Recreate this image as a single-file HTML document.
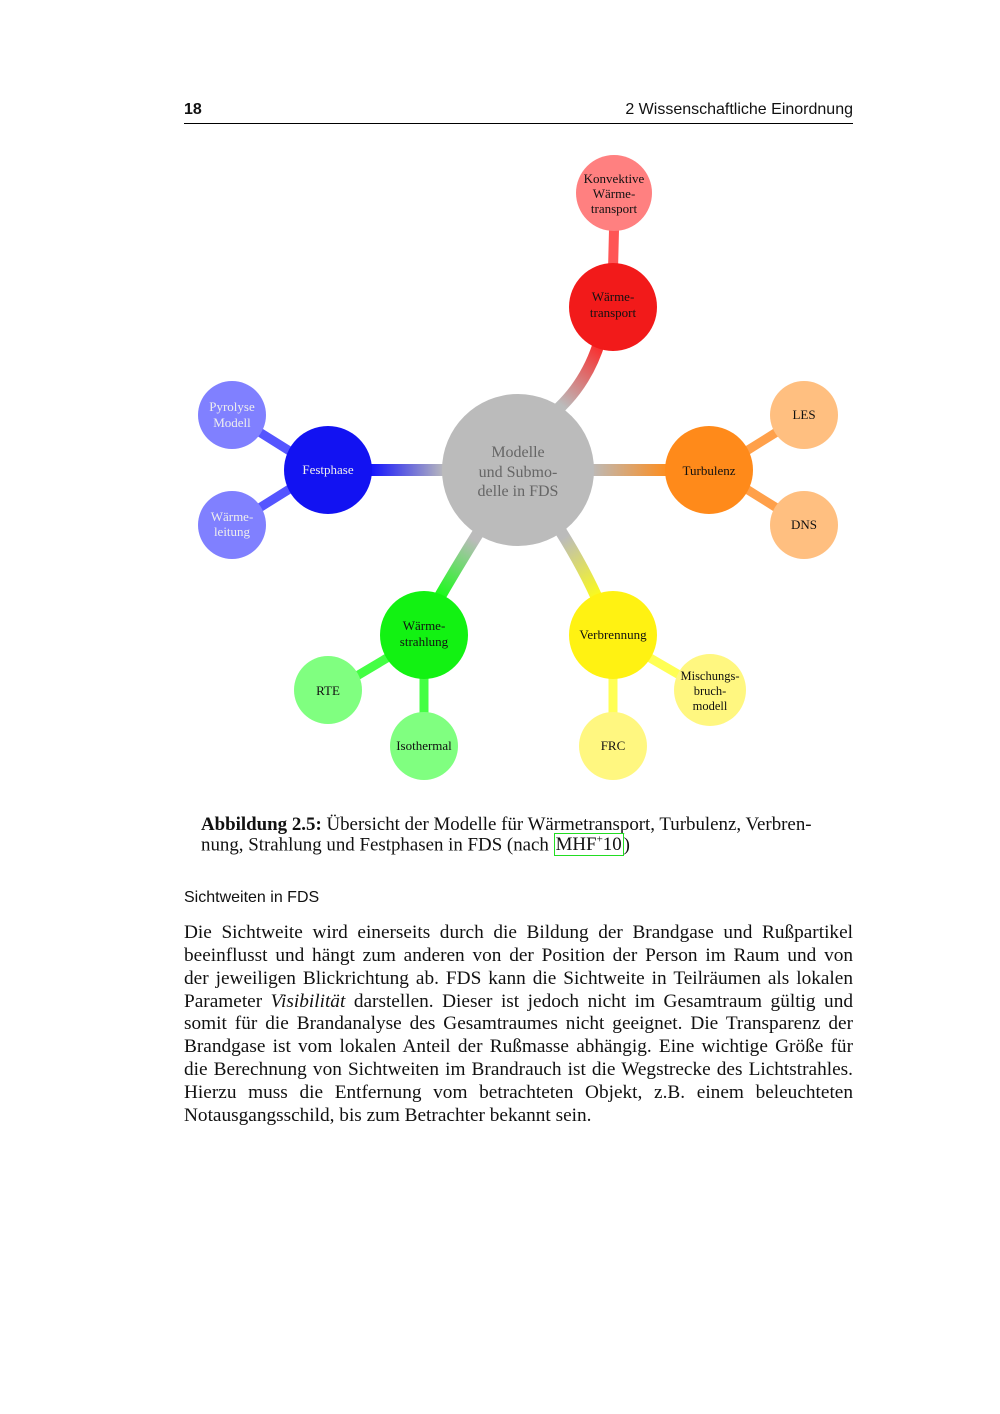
<!DOCTYPE html>
<html><head><meta charset="utf-8"><style>
body{margin:0;background:#fff;}
.page{position:relative;width:1000px;height:1414px;overflow:hidden;font-family:"Liberation Serif",serif;color:#111;}
.hdr{position:absolute;top:101px;left:184px;width:669px;font-family:"Liberation Sans",sans-serif;font-size:16px;}
.rule{position:absolute;top:123px;left:184px;width:669px;height:1px;background:#000;}
.ln{position:absolute;left:184px;width:669px;white-space:nowrap;text-align:justify;text-align-last:justify;font-size:19.3px;}
.cap{position:absolute;left:201px;font-size:18.9px;white-space:nowrap;}
</style></head><body><div class="page">
<div class="hdr"><b>18</b><span style="float:right">2 Wissenschaftliche Einordnung</span></div>
<div class="rule"></div>
<svg width="1000" height="800" style="position:absolute;left:0;top:0" font-family="Liberation Serif, serif" text-anchor="middle">
<defs>
<linearGradient id="gr" gradientUnits="userSpaceOnUse" x1="555" y1="400" x2="600" y2="340"><stop offset="0" stop-color="#bbb"/><stop offset="1" stop-color="#f22"/></linearGradient>
<linearGradient id="go" gradientUnits="userSpaceOnUse" x1="590" y1="470" x2="670" y2="470"><stop offset="0" stop-color="#bbb"/><stop offset="1" stop-color="#ff8c1a"/></linearGradient>
<linearGradient id="gb" gradientUnits="userSpaceOnUse" x1="445" y1="470" x2="370" y2="470"><stop offset="0" stop-color="#bbb"/><stop offset="1" stop-color="#11f"/></linearGradient>
<linearGradient id="gg" gradientUnits="userSpaceOnUse" x1="475" y1="540" x2="440" y2="600"><stop offset="0" stop-color="#bbb"/><stop offset="1" stop-color="#1f1"/></linearGradient>
<linearGradient id="gy" gradientUnits="userSpaceOnUse" x1="560" y1="540" x2="600" y2="600"><stop offset="0" stop-color="#bbb"/><stop offset="1" stop-color="#ff1"/></linearGradient>
</defs>
<g stroke-linecap="round" fill="none">
<path d="M545 420 Q585 390 600 340" stroke="url(#gr)" stroke-width="12"/>
<path d="M585 470 L680 470" stroke="url(#go)" stroke-width="12"/>
<path d="M450 470 L360 470" stroke="url(#gb)" stroke-width="12"/>
<path d="M480 530 Q455 570 435 605" stroke="url(#gg)" stroke-width="12"/>
<path d="M560 530 Q585 570 600 605" stroke="url(#gy)" stroke-width="12"/>
<path d="M614 230 L613 270" stroke="#f55" stroke-width="10"/>
<path d="M740 455 L780 430" stroke="#ffa04a" stroke-width="9"/>
<path d="M740 485 L780 510" stroke="#ffa04a" stroke-width="9"/>
<path d="M296 455 L256 430" stroke="#55f" stroke-width="9"/>
<path d="M296 485 L256 510" stroke="#55f" stroke-width="9"/>
<path d="M392 655 L350 680" stroke="#4f4" stroke-width="9"/>
<path d="M424 670 L424 715" stroke="#4f4" stroke-width="9"/>
<path d="M645 655 L688 680" stroke="#ff5" stroke-width="9"/>
<path d="M613 670 L613 715" stroke="#ff5" stroke-width="9"/>
</g>
<circle cx="518" cy="470" r="76" fill="#bbb"/>
<circle cx="613" cy="307" r="44" fill="#f21a1a"/>
<circle cx="614" cy="193" r="38" fill="#ff8080"/>
<circle cx="709" cy="470" r="44" fill="#ff8a1a"/>
<circle cx="804" cy="415" r="34" fill="#ffbf80"/>
<circle cx="804" cy="525" r="34" fill="#ffbf80"/>
<circle cx="328" cy="470" r="44" fill="#1212f2"/>
<circle cx="232" cy="415" r="34" fill="#8080ff"/>
<circle cx="232" cy="525" r="34" fill="#8080ff"/>
<circle cx="424" cy="635" r="44" fill="#12f212"/>
<circle cx="328" cy="690" r="34" fill="#80ff80"/>
<circle cx="424" cy="746" r="34" fill="#80ff80"/>
<circle cx="613" cy="635" r="44" fill="#fff212"/>
<circle cx="710" cy="690" r="36" fill="#fff780"/>
<circle cx="613" cy="746" r="34" fill="#fff780"/>
<g font-size="16" fill="#666"><text x="518" y="457">Modelle</text><text x="518" y="477">und Submo-</text><text x="518" y="496">delle in FDS</text></g>
<g font-size="13" fill="#111">
<text x="614" y="183">Konvektive</text><text x="614" y="198">Wärme-</text><text x="614" y="213">transport</text>
<text x="613" y="301">Wärme-</text><text x="613" y="317">transport</text>
<text x="709" y="475">Turbulenz</text>
<text x="804" y="419">LES</text><text x="804" y="529">DNS</text>
<text x="424" y="630">Wärme-</text><text x="424" y="646">strahlung</text>
<text x="328" y="695">RTE</text><text x="424" y="750">Isothermal</text>
<text x="613" y="639">Verbrennung</text>
<text x="710" y="680" font-size="12.5">Mischungs-</text><text x="710" y="695" font-size="12.5">bruch-</text><text x="710" y="710" font-size="12.5">modell</text>
<text x="613" y="750">FRC</text>
</g>
<g font-size="13" fill="#eee">
<text x="328" y="474">Festphase</text>
<text x="232" y="411">Pyrolyse</text><text x="232" y="427">Modell</text>
<text x="232" y="521">Wärme-</text><text x="232" y="536">leitung</text>
</g>
</svg>
<div class="cap" style="top:814px"><b>Abbildung 2.5:</b> Übersicht der Modelle für Wärmetransport, Turbulenz, Verbren-</div>
<div class="cap" style="top:834px">nung, Strahlung und Festphasen in FDS (nach <span style="border:1.5px solid #2d2;padding:0 1px">MHF<sup style="font-size:11px">+</sup>10</span>)</div>
<div style="position:absolute;left:184px;top:889px;font-family:'Liberation Sans',sans-serif;font-size:16px">Sichtweiten in FDS</div>
<div class="ln" style="top:922px">Die Sichtweite wird einerseits durch die Bildung der Brandgase und Rußpartikel</div>
<div class="ln" style="top:945px">beeinflusst und hängt zum anderen von der Position der Person im Raum und von</div>
<div class="ln" style="top:968px">der jeweiligen Blickrichtung ab. FDS kann die Sichtweite in Teilräumen als lokalen</div>
<div class="ln" style="top:991px">Parameter <i>Visibilität</i> darstellen. Dieser ist jedoch nicht im Gesamtraum gültig und</div>
<div class="ln" style="top:1013px">somit für die Brandanalyse des Gesamtraumes nicht geeignet. Die Transparenz der</div>
<div class="ln" style="top:1036px">Brandgase ist vom lokalen Anteil der Rußmasse abhängig. Eine wichtige Größe für</div>
<div class="ln" style="top:1059px">die Berechnung von Sichtweiten im Brandrauch ist die Wegstrecke des Lichtstrahles.</div>
<div class="ln" style="top:1082px">Hierzu muss die Entfernung vom betrachteten Objekt, z.B. einem beleuchteten</div>
<div class="ln" style="top:1105px;text-align-last:left">Notausgangsschild, bis zum Betrachter bekannt sein.</div>
</div></body></html>
